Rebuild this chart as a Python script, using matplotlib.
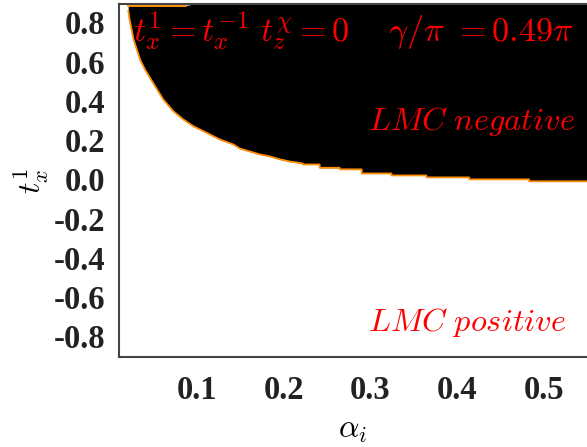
import numpy as np
import matplotlib.pyplot as plt

plt.rcParams['mathtext.fontset'] = 'cm'

# boundary of the LMC-negative region
alpha_b = [0.0206, 0.0223, 0.0269, 0.0344, 0.0402, 0.0517, 0.0612, 0.0727, 0.0842,
           0.0957, 0.1112, 0.1265, 0.1418, 0.1495, 0.161, 0.1725, 0.184, 0.1955,
           0.207, 0.222, 0.222, 0.2415, 0.2415, 0.2646, 0.2646, 0.290, 0.290,
           0.3244, 0.3244, 0.3647, 0.3647, 0.4141, 0.4141, 0.4832, 0.4832, 0.55]
tx_b = [0.863, 0.812, 0.711, 0.609, 0.558, 0.474, 0.406, 0.347, 0.305,
        0.271, 0.237, 0.203, 0.178, 0.157, 0.142, 0.127, 0.117, 0.102,
        0.091, 0.081, 0.076, 0.076, 0.059, 0.059, 0.051, 0.051, 0.030,
        0.030, 0.020, 0.020, 0.010, 0.010, 0.0, 0.0, -0.010, -0.010]
# the top row of the grid is white left of this alpha
top_row_alpha = 0.0875
top_row_tx = 0.883

xticks = [0.1, 0.2, 0.3, 0.4, 0.5]
yticks = [-0.8, -0.6, -0.4, -0.2, 0.0, 0.2, 0.4, 0.6, 0.8]
ylo, yhi = -0.905, 0.893

fig = plt.figure(figsize=(5.87, 4.47), dpi=100)
ax = fig.add_axes([0.2027, 0.2013, 0.7973, 0.7897])

a = np.array(alpha_b)
top = np.where(a < top_row_alpha, top_row_tx, yhi)
ax.fill_between(a, tx_b, top, color='black', lw=0)
ax.plot(alpha_b, tx_b, color='#ff8c00', lw=1.3, solid_capstyle='butt')
ax.plot([alpha_b[0], top_row_alpha], [top_row_tx, top_row_tx], color='#ff8c00', lw=1.3)

ax.set_xlim(0.01, 0.55)
ax.set_ylim(ylo, yhi)
ax.set_xticks(xticks)
ax.set_yticks(yticks)
ax.set_xticklabels(['%.1f' % v for v in xticks])
ax.set_yticklabels(['%.1f' % v for v in yticks])
for lab in ax.get_xticklabels() + ax.get_yticklabels():
    lab.set_fontfamily('Liberation Serif')
    lab.set_fontweight('bold')
    lab.set_fontsize(23.5)
    lab.set_color('#222222')
ax.tick_params(length=0)
ax.tick_params(axis='x', pad=13)
ax.tick_params(axis='y', pad=10)

ax.spines['right'].set_visible(False)
for s in ['left', 'bottom', 'top']:
    ax.spines[s].set_color('#444444')
    ax.spines[s].set_linewidth(1.5)

ax.set_xlabel(r'$\alpha_i$', fontsize=23, labelpad=6)
ax.set_ylabel(r'$t_x^1$', fontsize=23, labelpad=2)

ax.text(0.03, 0.985, r'$t_x^1=t_x^{-1}\ t_z^{\chi}=0\quad\ \gamma/\pi\ {=}0.49\pi$',
        transform=ax.transAxes, color='red', fontsize=24.6, va='top', ha='left')
ax.text(0.974, 0.666, r'$LMC\ negative$', transform=ax.transAxes, color='red',
        fontsize=23.3, va='center', ha='right')
ax.text(0.957, 0.099, r'$LMC\ positive$', transform=ax.transAxes, color='red',
        fontsize=23.3, va='center', ha='right')

fig.savefig('out.png', dpi=100)
